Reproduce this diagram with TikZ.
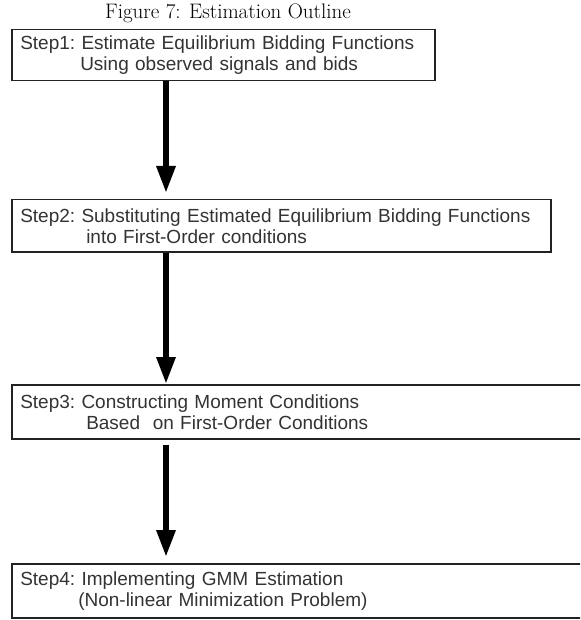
\documentclass[tikz,border=0pt]{standalone}
\usepackage{fontspec}
\newfontfamily\boxfont{Liberation Sans}
\usetikzlibrary{arrows.meta}
\definecolor{boxtext}{HTML}{333333}
\definecolor{boxline}{HTML}{222222}
\tikzset{
  stepbox/.style={draw=boxline, line width=1.5pt, anchor=north west,
    inner xsep=8.5pt, inner ysep=0pt, align=left,
    font=\boxfont\frenchspacing\fontsize{19}{21}\selectfont, text=boxtext},
  flow/.style={line width=6pt, -{Triangle[width=18pt,length=27pt]}}
}
\begin{document}
\begin{tikzpicture}[x=1pt,y=-1pt]
\useasboundingbox (0,0) rectangle (580,620);
\clip (0,0) rectangle (580,620);
\node[anchor=base, font=\fontsize{21}{23}\selectfont] (title) at (228,19) {Figure 7: Estimation Outline};
\node[stepbox, minimum width=423pt, minimum height=51pt, text width=406pt] (b1) at (11,29)
  {Step1: Estimate Equilibrium Bidding Functions\\\hspace*{60pt}Using observed signals and bids};
\node[stepbox, minimum width=539pt, minimum height=52pt, text width=522pt] (b2) at (11,199)
  {Step2: Substituting Estimated Equilibrium Bidding Functions\\\hspace*{66pt}into First-Order conditions};
\node[stepbox, minimum width=590pt, minimum height=54pt, text width=573pt] (b3) at (11,384)
  {Step3: Constructing Moment Conditions\\\hspace*{66pt}Based\ \ on First-Order Conditions};
\node[stepbox, minimum width=590pt, minimum height=54pt, text width=573pt] (b4) at (11,563)
  {Step4: Implementing GMM Estimation\\\hspace*{58pt}(Non-linear Minimization Problem)};
\coordinate (ax) at (166,0);
\draw[flow, shorten >=6pt] (b1.south -| ax) -- (b2.north -| ax);
\draw[flow] (b2.south -| ax) -- (b3.north -| ax);
\draw[flow, shorten <=5pt, shorten >=6pt] (b3.south -| ax) -- (b4.north -| ax);
\end{tikzpicture}
\end{document}
